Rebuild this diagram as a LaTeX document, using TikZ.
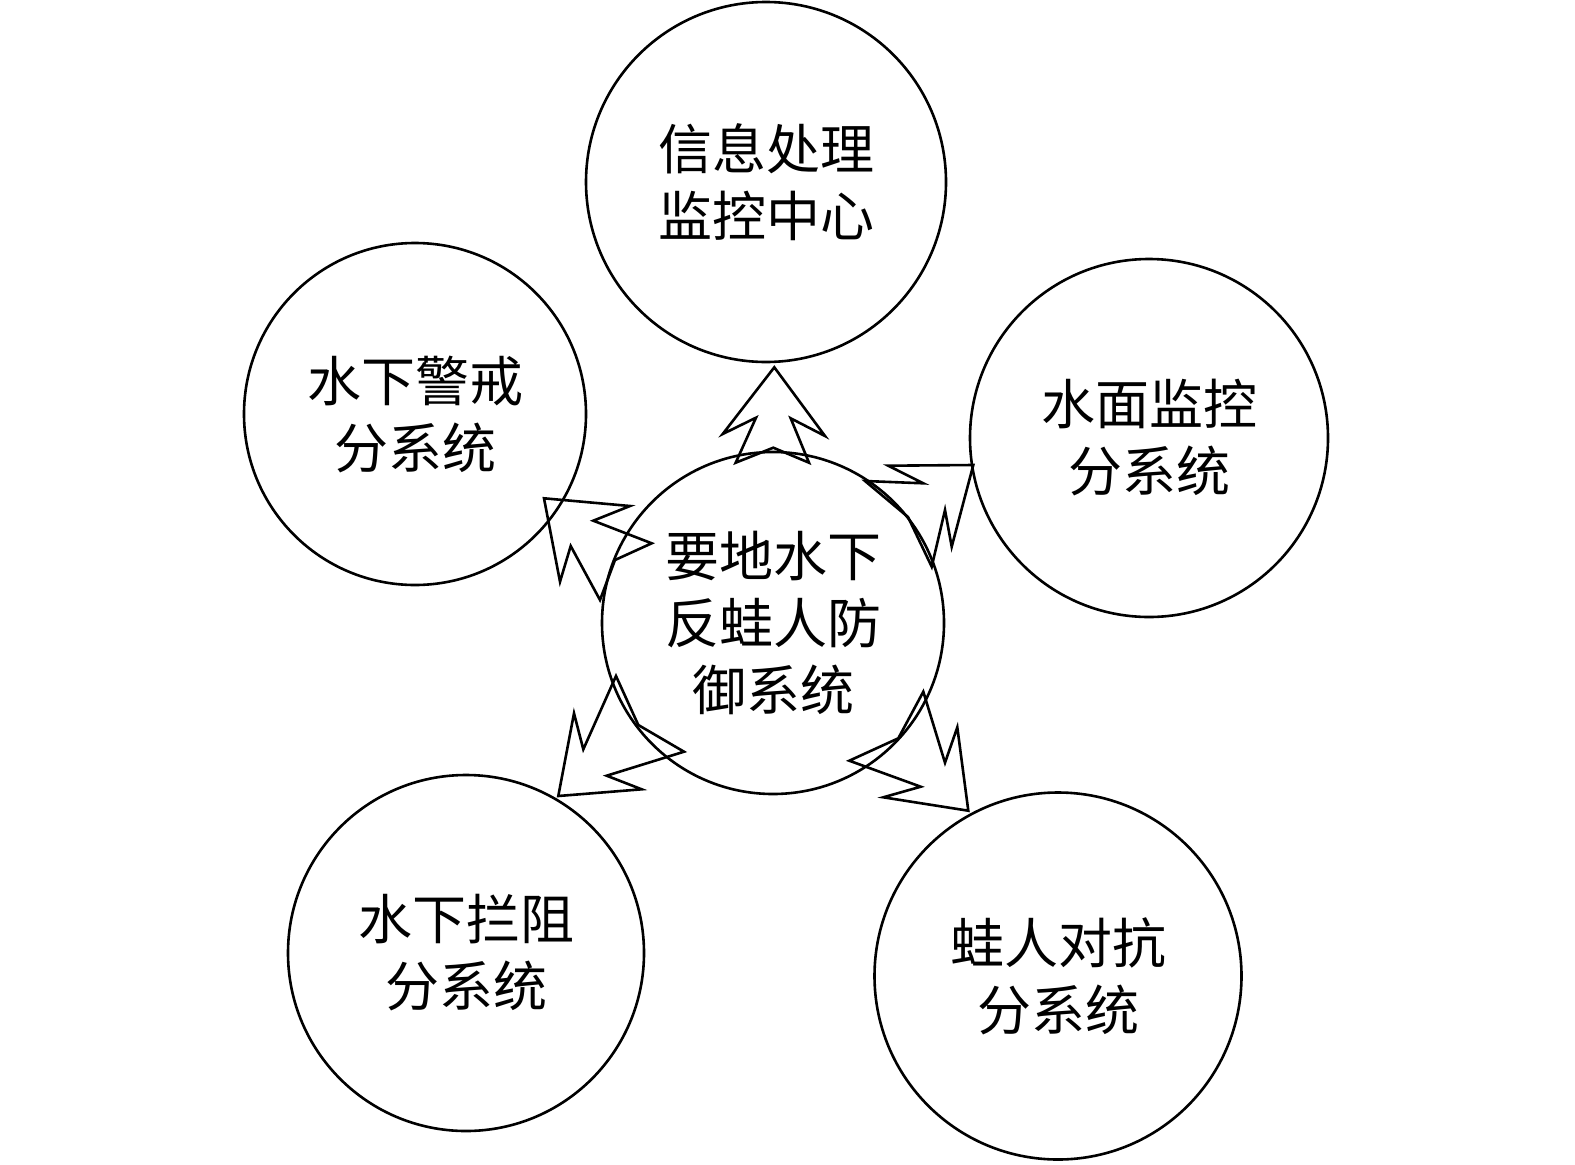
\documentclass[tikz,border=0pt]{standalone}
\usepackage{fontspec}
\newfontfamily\cjk{Noto Sans CJK SC}
\begin{document}
\begin{tikzpicture}[x=1pt,y=-1pt,
  sys/.style={circle,draw,line width=2.6pt,inner sep=0pt,align=center,
    font=\cjk\fontsize{54}{67}\selectfont},
  bolt/.style={draw,line width=2.6pt,line join=miter}]
\useasboundingbox (0,0) rectangle (1575,1165);
\node[sys,minimum size=360pt] (top) at (766,182) {信息处理\\监控中心};
\node[sys,minimum size=342pt] (lu) at (415,414) {水下警戒\\分系统};
\node[sys,minimum size=358pt] (ru) at (1149,438) {水面监控\\分系统};
\node[sys,minimum size=342pt] (ctr) at (773,623) {要地水下\\反蛙人防\\御系统};
\node[sys,minimum size=356pt] (ll) at (466,953) {水下拦阻\\分系统};
\node[sys,minimum size=367pt] (lr) at (1058,976) {蛙人对抗\\分系统};
% up arrow
\draw[bolt] (774.3,367.3) -- (825,436) -- (790.7,418.3) -- (809,462.7) -- (773.3,447.7)
  -- (735.7,462.7) -- (756,417.7) -- (722.7,434) -- cycle;
% upper-right arrow
\draw[bolt] (973.3,465) -- (888.3,465.7) -- (923.3,483.3) -- (865,481) -- (908,517)
  -- (931.7,566.7) -- (945,510) -- (951.7,546.7) -- cycle;
% upper-left arrow
\draw[bolt] (544,498.3) -- (630,506) -- (593.3,520.7) -- (651.7,543.3) -- (615,560)
  -- (600,600) -- (570.7,546) -- (560,581.7) -- cycle;
% lower-left arrow
\draw[bolt] (558.3,796) -- (641.7,789.3) -- (606.7,775.7) -- (684,751.7) -- (638.3,725)
  -- (616,676) -- (583.3,749.3) -- (574,713.3) -- cycle;
% lower-right arrow
\draw[bolt] (968.3,810.7) -- (883.3,797.3) -- (920.7,786.7) -- (849.3,760.7) -- (898.3,738.3)
  -- (923.3,691.7) -- (945,762.7) -- (957.3,727.3) -- cycle;
\end{tikzpicture}
\end{document}
